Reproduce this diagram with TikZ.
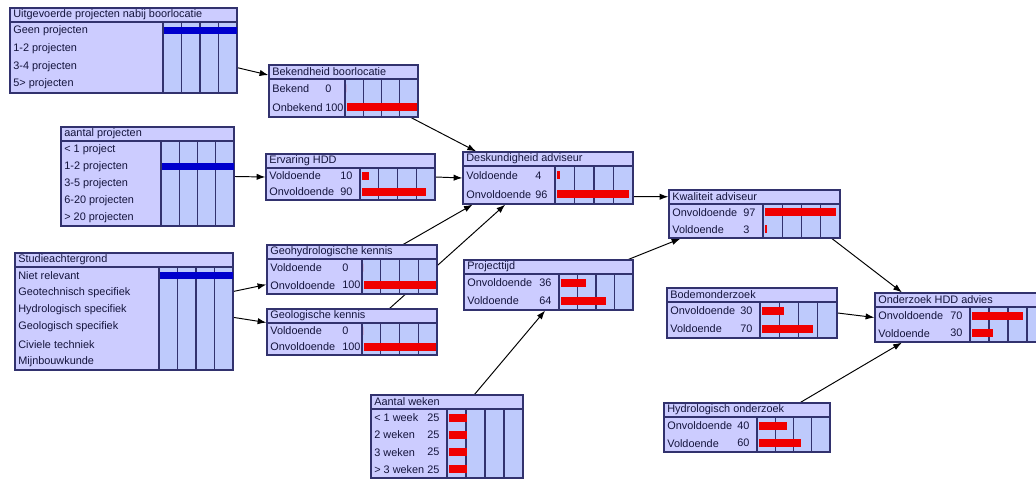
\documentclass[tikz,border=0pt]{standalone}
\usepackage{fontspec}
\setmainfont{Liberation Sans}
\usetikzlibrary{arrows.meta,calc,fit}

\definecolor{boxfill}{RGB}{204,204,255}
\definecolor{cellfill}{RGB}{190,202,252}
\definecolor{gridcol}{RGB}{50,50,110}
\definecolor{inktext}{RGB}{20,20,60}
\definecolor{evblue}{RGB}{0,0,205}
\definecolor{probred}{RGB}{240,0,0}

\pgfdeclarelayer{background}
\pgfsetlayers{background,main}

\tikzset{
  framebox/.style={draw=gridcol,line width=0.7pt,inner sep=0pt},
  gridline/.style={draw=gridcol,line width=0.6pt},
  celltext/.style={anchor=west,inner sep=0pt,text=inktext,
    font=\fontsize{6.2}{7}\selectfont},
  link/.style={-{Latex[length=5pt,width=3.6pt]},line width=0.55pt},
}

% table frame: name, left, top, bar start, right, bottom, rows, title
\newcommand{\probtable}[8]{%
  \def\cptName{#1}\def\cptL{#2}\def\cptT{#3}\def\cptB{#4}%
  \def\cptR{#5}\def\cptD{#6}\def\cptN{#7}%
  \fill[boxfill] (#2,#3) rectangle (#5,#6);
  \fill[cellfill] (#4,#3+14) rectangle (#5,#6);
  \foreach \k in {1,2,3}
    \draw[gridline] ({#4+\k*(#5-#4)/4},#3+14) -- ({#4+\k*(#5-#4)/4},#6);
  \draw[gridline] (#4,#3+14) -- (#4,#6);
  \draw[gridline,line width=0.9pt] (#2,#3+14) -- (#5,#3+14);
  \node[framebox,fit={(#2,#3) (#5,#6)}] (#1) {};
  \node[celltext] (#1-title) at (#2+3,#3+7) {#8};
}
% state with percentage and red bar
\newcommand{\cptrow}[3]{%
  \pgfmathsetmacro\rowy{\cptT+14+(#1-0.5)*(\cptD-\cptT-14)/\cptN}
  \node[celltext] (\cptName-r#1) at (\cptL+3,\rowy) {#2};
  \node[celltext] (\cptName-v#1) at (\cptB-20,\rowy) {#3};
  \fill[probred] (\cptB+1.5,\rowy-4)
    rectangle ({\cptB+1.5+#3/100*(\cptR-\cptB-3)},\rowy+4);
}
% state of an observed node, no number
\newcommand{\cptstate}[2]{%
  \pgfmathsetmacro\rowy{\cptT+14+(#1-0.5)*(\cptD-\cptT-14)/\cptN}
  \node[celltext] (\cptName-r#1) at (\cptL+3,\rowy) {#2};
}
% blue evidence bar over the whole row
\newcommand{\cptev}[1]{%
  \pgfmathsetmacro\rowy{\cptT+14+(#1-0.5)*(\cptD-\cptT-14)/\cptN}
  \fill[evblue] (\cptB+0.5,\rowy-3.5) rectangle (\cptR-0.5,\rowy+3.5);
}

\begin{document}
\begin{tikzpicture}[x=0.02cm,y=-0.02cm]
\useasboundingbox (0,0) rectangle (1036,479);
\clip (0,0) rectangle (1036,479);

% left column: observed inputs
\probtable{uitg}{10}{8}{163}{237}{93}{4}{Uitgevoerde projecten nabij boorlocatie}
\cptev{1}
\cptstate{1}{Geen projecten}
\cptstate{2}{1-2 projecten}
\cptstate{3}{3-4 projecten}
\cptstate{4}{5> projecten}

\probtable{aant}{61}{127}{161}{234}{226}{5}{aantal projecten}
\cptev{2}
\cptstate{1}{< 1 project}
\cptstate{2}{1-2 projecten}
\cptstate{3}{3-5 projecten}
\cptstate{4}{6-20 projecten}
\cptstate{5}{> 20 projecten}

\probtable{stud}{15}{253}{159}{233}{370}{6}{Studieachtergrond}
\cptev{1}
\cptstate{1}{Niet relevant}
\cptstate{2}{Geotechnisch specifiek}
\cptstate{3}{Hydrologisch specifiek}
\cptstate{4}{Geologisch specifiek}
\cptstate{5}{Civiele techniek}
\cptstate{6}{Mijnbouwkunde}

% second column
\probtable{bek}{269}{65}{345}{418}{117}{2}{Bekendheid boorlocatie}
\cptrow{1}{Bekend}{0}
\cptrow{2}{Onbekend}{100}

\probtable{erv}{266}{154}{360}{435}{200}{2}{Ervaring HDD}
\cptrow{1}{Voldoende}{10}
\cptrow{2}{Onvoldoende}{90}

\probtable{geoh}{267}{245}{362}{437}{294}{2}{Geohydrologische kennis}
\cptrow{1}{Voldoende}{0}
\cptrow{2}{Onvoldoende}{100}

\probtable{geol}{267}{309}{362}{437}{355}{2}{Geologische kennis}
\cptrow{1}{Voldoende}{0}
\cptrow{2}{Onvoldoende}{100}

% third column
\probtable{desk}{463}{152}{555}{633}{204}{2}{Deskundigheid adviseur}
\cptrow{1}{Voldoende}{4}
\cptrow{2}{Onvoldoende}{96}

\probtable{proj}{464}{260}{559}{633}{310}{2}{Projecttijd}
\cptrow{1}{Onvoldoende}{36}
\cptrow{2}{Voldoende}{64}

\probtable{weken}{371}{395}{447}{523}{478}{4}{Aantal weken}
\cptrow{1}{< 1 week}{25}
\cptrow{2}{2 weken}{25}
\cptrow{3}{3 weken}{25}
\cptrow{4}{> 3 weken}{25}

% right part
\probtable{kwal}{669}{190}{763}{840}{238}{2}{Kwaliteit adviseur}
\cptrow{1}{Onvoldoende}{97}
\cptrow{2}{Voldoende}{3}

\probtable{bodem}{667}{288}{760}{837}{338}{2}{Bodemonderzoek}
\cptrow{1}{Onvoldoende}{30}
\cptrow{2}{Voldoende}{70}

\probtable{hydro}{664}{403}{757}{830}{452}{2}{Hydrologisch onderzoek}
\cptrow{1}{Onvoldoende}{40}
\cptrow{2}{Voldoende}{60}

\probtable{ond}{875}{293}{970}{1046}{342}{2}{Onderzoek HDD advies}
\cptrow{1}{Onvoldoende}{70}
\cptrow{2}{Voldoende}{30}

% links, kept behind the tables
\begin{pgfonlayer}{background}
\draw[link] ($(uitg.north east)!.7!(uitg.south east)$) -- ($(bek.north west)!.2!(bek.south west)$);
\draw[link] ($(bek.south west)!.95!(bek.south east)$) -- ($(desk.north west)!.08!(desk.north east)$);
\draw[link] (aant.east) -- (erv.west);
\draw[link] (erv.east) -- (desk.west);
\draw[link] ($(stud.north east)!.33!(stud.south east)$) -- ($(geoh.north west)!.8!(geoh.south west)$);
\draw[link] ($(stud.north east)!.55!(stud.south east)$) -- ($(geol.north west)!.3!(geol.south west)$);
\draw[link] ($(geoh.north west)!.8!(geoh.north east)$) -- ($(desk.south west)!.06!(desk.south east)$);
\draw[link] ($(geol.north west)!.72!(geol.north east)$) -- ($(desk.south west)!.25!(desk.south east)$);
\draw[link] ($(desk.north east)!.85!(desk.south east)$) -- ($(kwal.north west)!.15!(kwal.south west)$);
\draw[link] ($(proj.north west)!.97!(proj.north east)$) -- ($(kwal.south west)!.07!(kwal.south east)$);
\draw[link] ($(weken.north west)!.68!(weken.north east)$) -- ($(proj.south west)!.48!(proj.south east)$);
\draw[link] ($(kwal.south west)!.95!(kwal.south east)$) -- ($(ond.north west)!.16!(ond.north east)$);
\draw[link] (bodem.east) -- (ond.west);
\draw[link] ($(hydro.north west)!.82!(hydro.north east)$) -- ($(ond.south west)!.16!(ond.south east)$);
\end{pgfonlayer}
\end{tikzpicture}
\end{document}
